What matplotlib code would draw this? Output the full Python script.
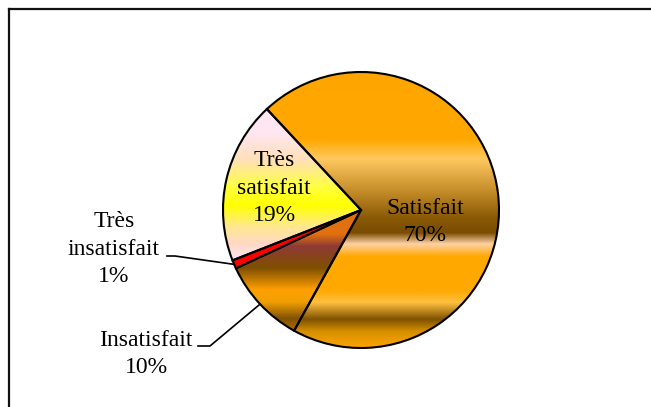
import numpy as np
import matplotlib
matplotlib.use("Agg")
import matplotlib.pyplot as plt
from matplotlib.colors import LinearSegmentedColormap
from matplotlib.lines import Line2D

# Données
categories = ['Satisfait', 'Insatisfait', 'Très insatisfait', 'Très satisfait']
pourcentages = [70, 10, 1, 19]

# Dégradés verticaux (position depuis le haut de la part, couleur)
degrades = {
    'Satisfait': [(0.0, '#FFA500'), (0.25, '#FFA800'), (0.32, '#FFC860'),
                  (0.43, '#C8902C'), (0.53, '#8A5A06'), (0.585, '#7A4C00'),
                  (0.625, '#FFD2A6'), (0.67, '#FFA800'), (0.79, '#FFA800'),
                  (0.835, '#FFC040'), (0.895, '#7F5200'), (0.94, '#D89000'),
                  (1.0, '#FFA500')],
    'Insatisfait': [(0.0, '#E07010'), (0.2, '#E07010'), (0.3, '#8E3A36'),
                    (0.48, '#7F5000'), (0.66, '#FFA000'), (0.76, '#F0A000'),
                    (0.9, '#805000'), (1.0, '#B07000')],
    'Très insatisfait': None,
    'Très satisfait': [(0.0, '#FFE6F0'), (0.17, '#FFE6F0'), (0.34, '#FFE0B8'),
                       (0.52, '#FFFF40'), (0.64, '#FFFF00'), (0.78, '#FFE890'),
                       (0.9, '#FFD8C8'), (1.0, '#FFE8F0')],
}
couleur_unie = {'Très insatisfait': '#FF0000'}

# Mise en page (pixels de l'image: centre du camembert et rayon)
W, H = 651, 407
cx, cy, R = 361, 210, 138

def px(x, y):
    return (x - cx) / R, (cy - y) / R

pos_etiquettes = {
    'Satisfait': px(425, 222),
    'Insatisfait': px(146, 354),
    'Très insatisfait': px(114, 249),
    'Très satisfait': px(274, 188),
}
coudes = {
    'Insatisfait': [px(198, 346), px(210, 346)],
    'Très insatisfait': [px(167, 256), px(175, 256)],
}

fig = plt.figure(figsize=(W / 100, H / 100), dpi=100)
ax = fig.add_axes([0, 0, 1, 1])

wedges, _ = ax.pie(pourcentages, startangle=133, counterclock=False, radius=1,
                   colors=[couleur_unie.get(c, 'none') for c in categories],
                   wedgeprops=dict(edgecolor='black', linewidth=1.5))

for w, cat in zip(wedges, categories):
    stops = degrades[cat]
    if stops is None:
        continue
    verts = w.get_path().vertices
    x0, x1 = verts[:, 0].min(), verts[:, 0].max()
    y0, y1 = verts[:, 1].min(), verts[:, 1].max()
    cmap = LinearSegmentedColormap.from_list(cat, stops)
    grad = np.linspace(0, 1, 256).reshape(-1, 1)
    im = ax.imshow(grad, cmap=cmap, aspect='auto', extent=(x0, x1, y0, y1),
                   origin='upper', interpolation='bilinear', zorder=0.5)
    im.set_clip_path(w)
    w.set_zorder(1)
    w.set_facecolor('none')

police = dict(family='Liberation Serif', fontsize=17, color='black',
              ha='center', va='center', linespacing=1.42)

for w, cat, val in zip(wedges, categories, pourcentages):
    mots = cat.split(' ')
    texte = '\n'.join(mots) + f'\n{val}%'
    lx, ly = pos_etiquettes[cat]
    ax.text(lx, ly, texte, zorder=3, **police)
    if cat in coudes:
        ang = np.deg2rad((w.theta1 + w.theta2) / 2)
        bord = (np.cos(ang), np.sin(ang))
        pts = coudes[cat] + [bord]
        ax.plot([p[0] for p in pts], [p[1] for p in pts], color='black',
                lw=1.2, zorder=2)

ax.set_xlim(-cx / R, (W - cx) / R)
ax.set_ylim(-(H - cy) / R, cy / R)
ax.set_aspect('equal')
ax.axis('off')

# Cadre du graphique
fx, fy = 8.5 / W, 1 - 8.5 / H
fig.add_artist(Line2D([fx, 1.0], [fy, fy], transform=fig.transFigure,
                      color='#111111', lw=1.6))
fig.add_artist(Line2D([fx, fx], [fy, 0.0], transform=fig.transFigure,
                      color='#111111', lw=1.6))

fig.savefig('out.png', dpi=100)
